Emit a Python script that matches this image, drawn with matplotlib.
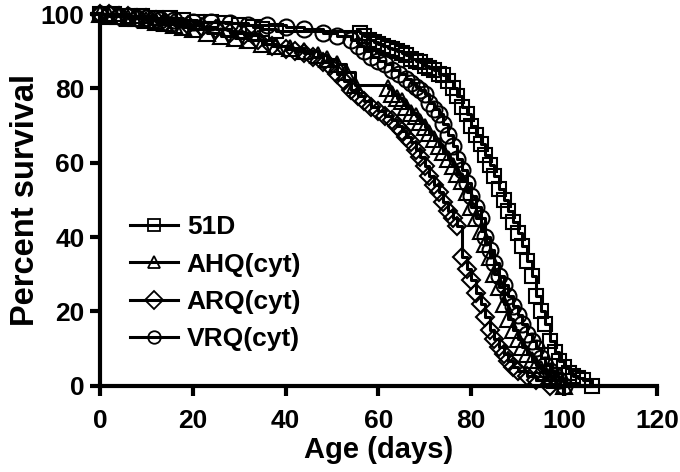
import matplotlib
matplotlib.use("Agg")
import matplotlib.pyplot as plt

plt.rcParams['font.family'] = ['Liberation Sans', 'DejaVu Sans']
plt.rcParams['font.weight'] = 'bold'

# survival curves (age in days, percent surviving)
days_51D = [0, 3, 6, 9, 12, 15, 18, 21, 24, 27, 30, 33, 35, 38,
            56, 57, 58, 59, 60, 61, 62, 63, 64, 65, 66, 67, 68, 69, 70, 71, 72, 73, 74, 75,
            76, 77, 78, 79, 80, 81, 82, 83, 84, 85, 86, 87, 88, 89, 90, 91, 92, 93, 94, 95,
            96, 97, 98, 99, 100, 101, 102, 103, 104, 106]
surv_51D = [100, 100, 99.5, 99.5, 99, 99, 98.5, 98, 98, 97.5, 97, 96.5, 96, 95.5,
            95, 94, 93, 92.5, 92, 91.5, 91, 90.5, 90, 89.5, 89, 88, 87.5, 87, 86, 85.5, 85, 84, 83.5, 82,
            80, 78, 75, 73, 70, 67.5, 65, 62, 59.5, 56.5, 53, 50, 47, 44, 41, 37.5, 33.5, 29.5, 24, 20,
            16.5, 12, 9, 6.5, 5, 3.5, 2.5, 2, 1.5, 0]

days_AHQ = [0, 2, 4, 6, 8, 10, 12, 14, 16, 18, 20, 23, 26, 29, 32, 35, 38, 41, 44, 47,
            49, 51, 53, 55, 62,
            63, 64, 65, 66, 67, 68, 69, 70, 71, 72, 73, 74, 75, 76, 77, 78, 79, 80, 81, 82,
            83, 84, 85, 86, 87, 88, 89, 90, 91, 92, 93, 94, 95, 96, 97, 98, 100]
surv_AHQ = [100, 99.5, 99.5, 99, 99, 98.5, 98, 97.5, 97, 96.5, 96, 95, 94, 93.5, 93, 92, 91.5, 91, 90, 89,
            88, 86.5, 84.5, 81, 80,
            78.5, 77.5, 76.5, 75, 73.5, 72.5, 71, 69.5, 68, 66.5, 64.5, 63, 61, 59, 57, 55, 52, 48, 45, 41.5,
            38, 34.5, 30, 26.5, 22, 18, 15, 12.5, 10.5, 8.5, 7, 5.5, 4.5, 3.5, 2.5, 1.5, 0]

days_ARQ = [0, 2, 4, 6, 8, 10, 12, 14, 16, 19, 22, 25, 28, 31, 34, 37, 40, 42, 44, 46, 48,
            49.5, 51, 52.5, 54, 55.5, 57, 58.5, 60, 61.5, 63,
            64, 65, 66, 67, 68, 69, 70, 71, 72, 73, 74, 75, 76, 77, 78, 79, 80, 81, 82, 83,
            84, 85, 86, 87, 88, 89, 90, 92, 94, 97]
surv_ARQ = [100, 100, 99.5, 99.5, 99, 99, 98.5, 98, 97.5, 97, 96.5, 96, 95, 94.5, 93, 91.5, 90.5, 90, 89.5, 88.5, 87,
            86, 84, 82, 79.5, 78, 76.5, 75, 74, 72.5, 71.5,
            70, 68.5, 67, 65.5, 63.5, 61.5, 59, 56.5, 54, 52, 49.5, 47, 45, 43, 34.5, 31.5, 28.5, 25, 22, 18.5,
            15, 12.5, 10.5, 8.5, 6.5, 5, 4, 2.5, 1.5, 0]

days_VRQ = [0, 2, 4, 6, 8, 10, 13, 16, 20, 24, 28, 32, 36, 40, 44, 48,
            51, 54, 55.5, 57, 58.5, 60, 61.5, 63, 64.5, 66,
            67, 68, 69, 70, 71, 72, 73, 74, 75, 76, 77, 78, 79, 80, 81, 82, 83, 84, 85, 86,
            87, 88, 89, 90, 91, 92, 93, 94, 95, 96, 97, 98, 99, 100]
surv_VRQ = [100, 100, 99.5, 99.5, 99, 99, 98.5, 98.5, 98, 98, 97.5, 97, 97, 96.5, 96, 95,
            94, 93, 91.5, 90, 88.5, 87.5, 86.5, 85, 84, 82.5,
            81.5, 80.5, 79.5, 78.5, 76, 74.5, 73, 70.5, 67.5, 64.5, 61, 58, 54.5, 51, 48, 45, 40, 36.5, 33, 29.5,
            27, 24, 21.5, 19, 16.5, 14, 12, 10, 7.5, 5.5, 4, 2.5, 1.5, 0]

series = [
    ("51D", days_51D, surv_51D, 's', 10.5),
    ("AHQ(cyt)", days_AHQ, surv_AHQ, '^', 11),
    ("ARQ(cyt)", days_ARQ, surv_ARQ, 'D', 9),
    ("VRQ(cyt)", days_VRQ, surv_VRQ, 'o', 11.5),
]

fig = plt.figure(figsize=(6.8, 4.72), dpi=100)
ax = fig.add_axes([0.147, 0.183, 0.819, 0.787])

for name, x, y, mk, ms in series:
    ax.plot(x, y, drawstyle='steps-post', color='black', lw=2.2,
            marker=mk, ms=ms, mfc='none', mec='black', mew=1.5,
            label=name, clip_on=False)

ax.set_xlim(0, 120)
ax.set_ylim(0, 100)
ax.set_xticks(range(0, 121, 20))
ax.set_yticks(range(0, 101, 20))
for side in ['top', 'right']:
    ax.spines[side].set_visible(False)
for side in ['left', 'bottom']:
    ax.spines[side].set_linewidth(3)
ax.tick_params(axis='both', direction='out', length=7, width=3, labelsize=19)
ax.tick_params(axis='x', pad=10)
ax.tick_params(axis='y', pad=4)

ax.set_xlabel("Age (days)", fontsize=21, fontweight='bold', labelpad=2)
ax.set_ylabel("Percent survival", fontsize=23.5, fontweight='bold', labelpad=0)

leg = ax.legend(loc='upper left', bbox_to_anchor=(0.054, 0.458), frameon=False,
                fontsize=19, handlelength=1.8, handletextpad=0.35, labelspacing=0.5,
                borderaxespad=0, borderpad=0)
for h in leg.legend_handles:
    h.set_markersize(9)
    h.set_markeredgewidth(1.3)
    h.set_linewidth(2.2)

fig.savefig("out.png", dpi=100)
